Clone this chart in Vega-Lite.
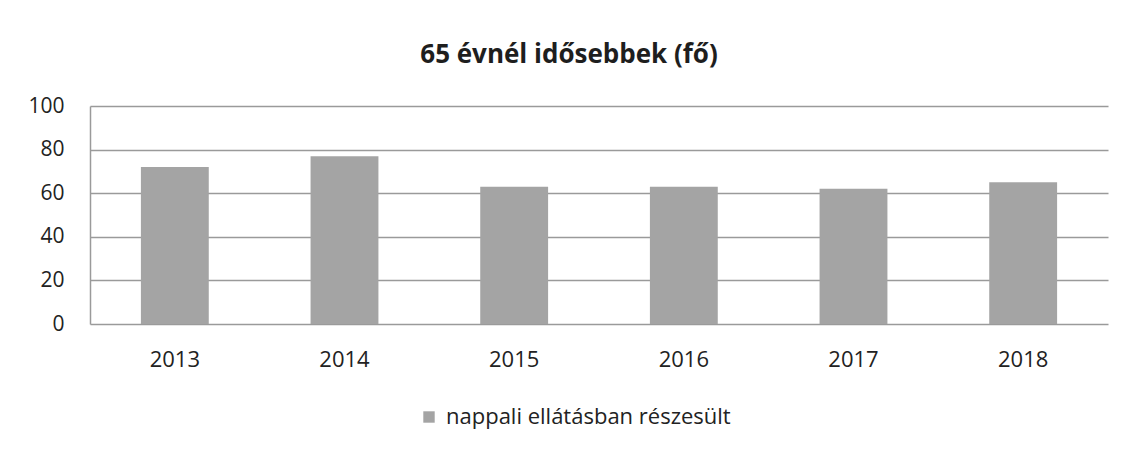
{
  "$schema": "https://vega.github.io/schema/vega-lite/v6.json",
  "width": 1018,
  "height": 218,
  "autosize": {"type": "none"},
  "padding": {"left": 90, "top": 106, "right": 17, "bottom": 125},
  "background": "#ffffff",
  "title": {
    "text": "65 évnél idősebbek (fő)",
    "font": "Open Sans",
    "fontSize": 26,
    "fontWeight": "bold",
    "color": "#1e1e1e",
    "anchor": "middle",
    "baseline": "alphabetic",
    "offset": 6,
    "dx": -30
  },
  "data": {
    "values": [
      {"year": "2013", "value": 72, "series": "nappali ellátásban részesült"},
      {"year": "2014", "value": 77, "series": "nappali ellátásban részesült"},
      {"year": "2015", "value": 63, "series": "nappali ellátásban részesült"},
      {"year": "2016", "value": 63, "series": "nappali ellátásban részesült"},
      {"year": "2017", "value": 62, "series": "nappali ellátásban részesült"},
      {"year": "2018", "value": 65, "series": "nappali ellátásban részesült"}
    ]
  },
  "config": {"view": {"stroke": null}},
  "mark": {"type": "bar"},
  "encoding": {
    "x": {
      "field": "year",
      "type": "nominal",
      "title": null,
      "scale": {"paddingInner": 0.6, "paddingOuter": 0.3},
      "axis": {
        "labelAngle": 0,
        "labelFont": "Open Sans",
        "labelFontSize": 22,
        "labelColor": "#222222",
        "labelBaseline": "alphabetic",
        "labelPadding": 42,
        "ticks": false,
        "domain": false,
        "grid": false
      }
    },
    "y": {
      "field": "value",
      "type": "quantitative",
      "title": null,
      "scale": {"domain": [0, 100]},
      "axis": {
        "values": [0, 20, 40, 60, 80, 100],
        "labelFont": "Open Sans",
        "labelFontSize": 21,
        "labelColor": "#222222",
        "labelPadding": 26,
        "ticks": false,
        "domain": true,
        "domainColor": "#9a9a9a",
        "domainWidth": 1.5,
        "grid": true,
        "gridColor": "#9a9a9a",
        "gridWidth": 1.5
      }
    },
    "color": {
      "field": "series",
      "type": "nominal",
      "scale": {"range": ["#a4a4a4"]},
      "legend": {
        "title": null,
        "orient": "none",
        "legendX": 328,
        "legendY": 300,
        "symbolType": "square",
        "symbolSize": 130,
        "symbolStrokeWidth": 0,
        "labelFont": "Open Sans",
        "labelFontSize": 22,
        "labelLimit": 0,
        "labelColor": "#222222",
        "labelOffset": 6
      }
    }
  }
}
